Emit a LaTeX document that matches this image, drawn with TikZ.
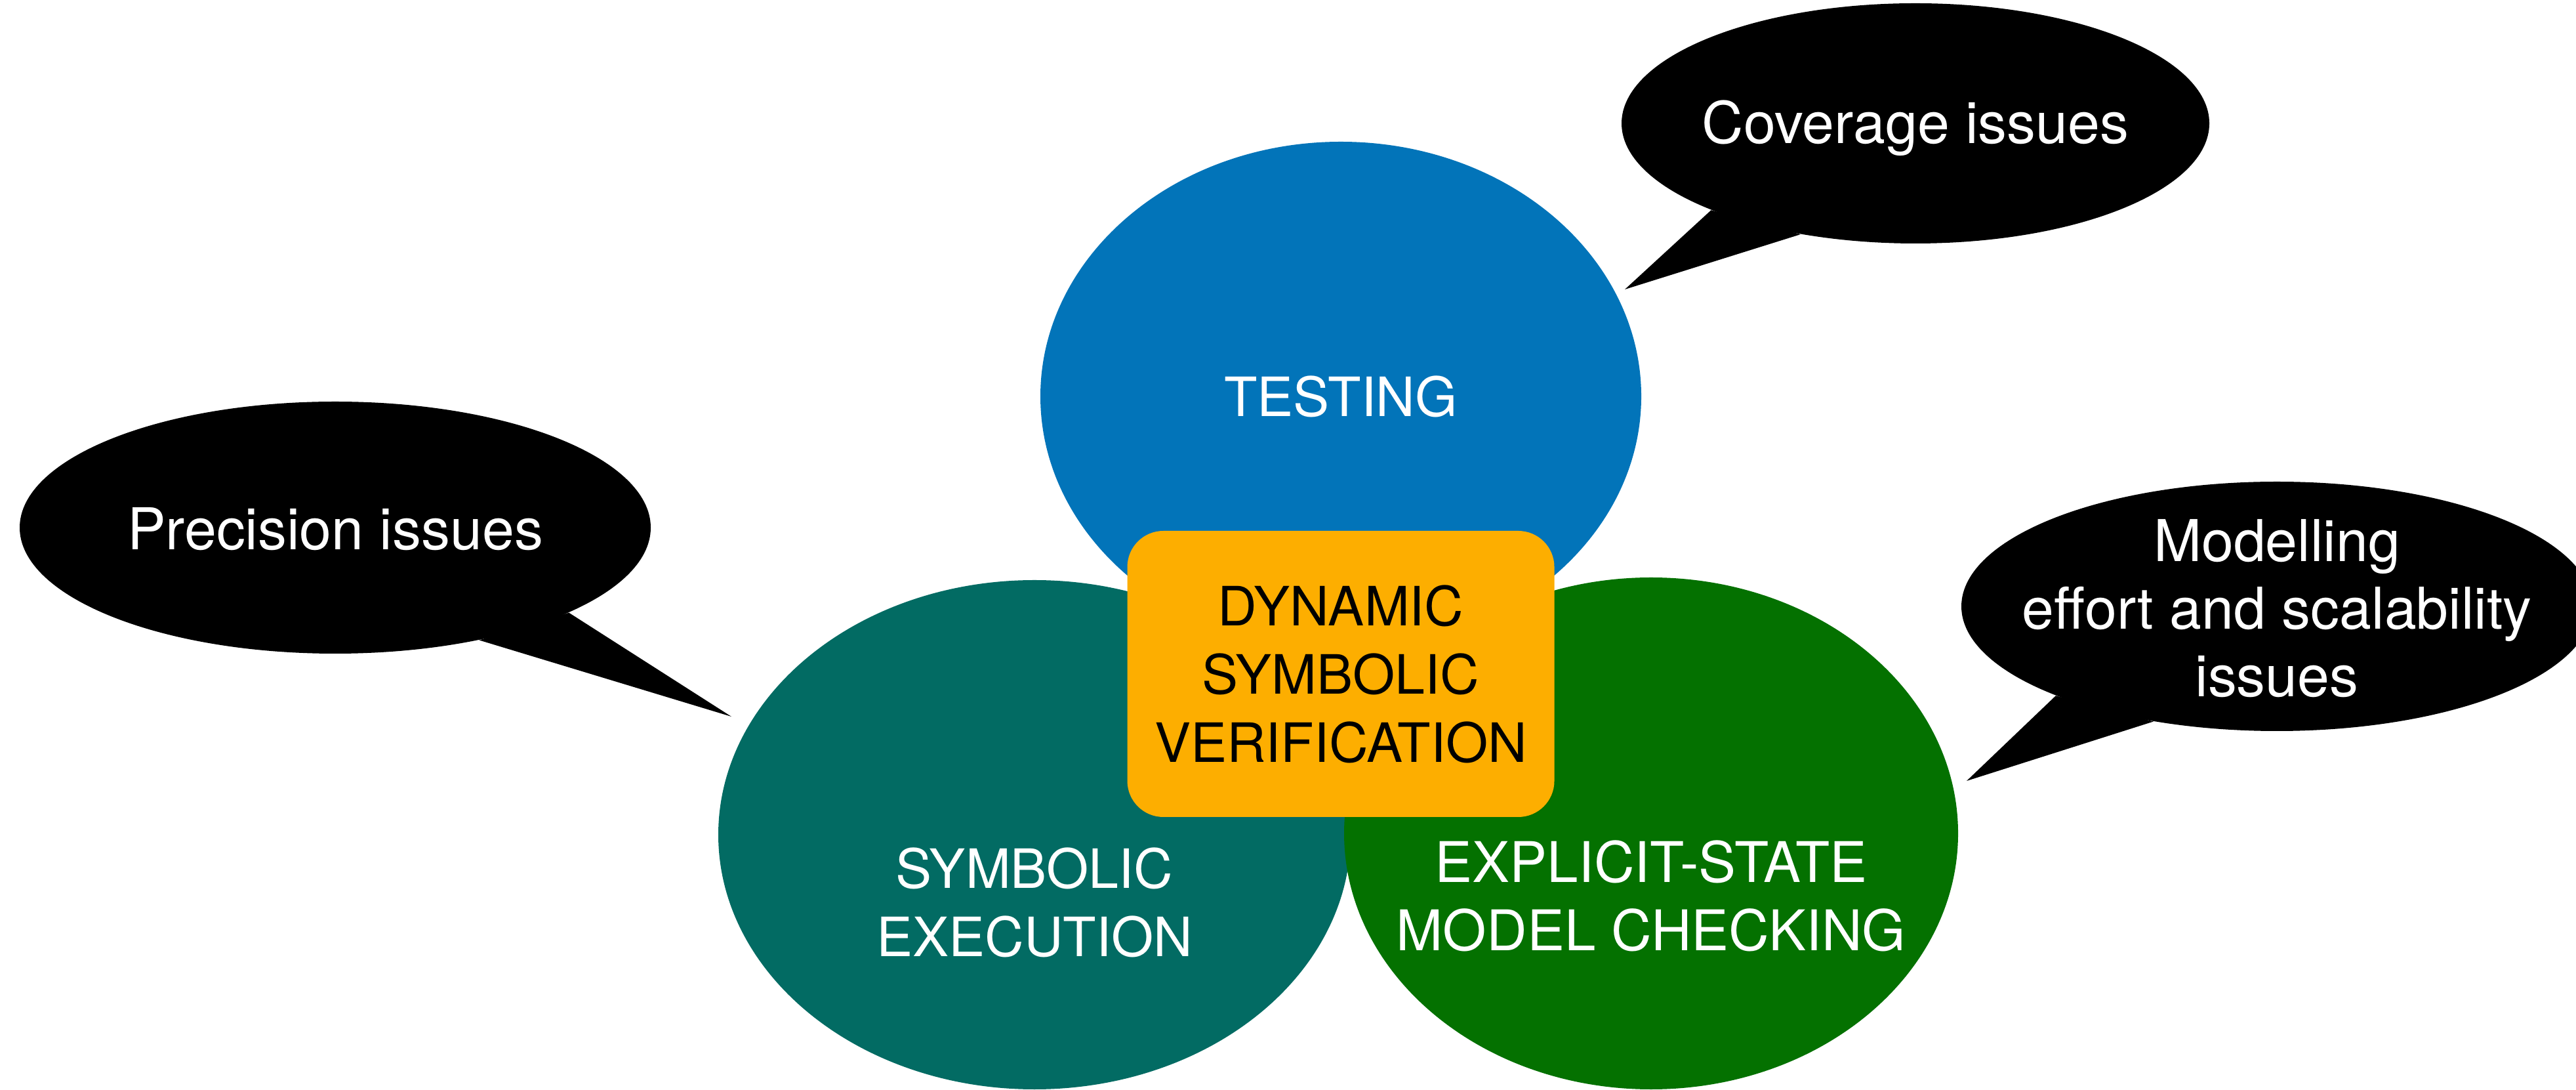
\documentclass[tikz,border=0pt]{standalone}
\usepackage{fontspec}
\setmainfont{TeX Gyre Heros}
\usepackage{xcolor}
\usepackage{tikz}
\usetikzlibrary{shapes.geometric}
\definecolor{testblue}{HTML}{0274B9}
\definecolor{symteal}{HTML}{026B63}
\definecolor{mcgreen}{HTML}{047100}
\definecolor{dsvorange}{HTML}{FDAE00}
\tikzstyle{area}=[ellipse, inner sep=0pt]
\tikzstyle{bubble}=[ellipse, fill=black, inner sep=0pt]
\tikzstyle{areatxt}=[text=white, align=center, font=\fontsize{23.5}{29.6}\selectfont]
\tikzstyle{bubtxt}=[text=white, align=center, font=\fontsize{25}{29.3}\selectfont]

\begin{document}
\begin{tikzpicture}[
  core/.style={rectangle, rounded corners=0.55cm, fill=dsvorange, minimum width=6.51cm,
    minimum height=4.36cm, align=center, font=\fontsize{23.5}{29.6}\selectfont}]
\useasboundingbox (0,0) rectangle (39.27,16.6);

% techniques
\node[area, fill=testblue, minimum width=9.16cm, minimum height=7.76cm] (T) at (20.44,10.56) {};
\node[area, fill=symteal, minimum width=9.64cm, minimum height=7.76cm] (S) at (15.77,3.88) {};
\node[area, fill=mcgreen, minimum width=9.36cm, minimum height=7.80cm] (M) at (25.17,3.90) {};
\node[areatxt] (Tt) at (T) {TESTING};
\node[areatxt] (St) at (15.77,2.85) {SYMBOLIC\\EXECUTION};
\node[areatxt, font=\fontsize{24.3}{29.6}\selectfont] (Mt) at (25.17,2.95) {EXPLICIT-STATE\\MODEL CHECKING};

% combination
\node[core] (D) at (20.44,6.33) {DYNAMIC\\SYMBOLIC\\VERIFICATION};

% speech bubbles
\node[bubble, minimum width=8.96cm, minimum height=3.66cm] (cov) at (29.20,14.72) {};
\node[bubble, minimum width=9.62cm, minimum height=3.84cm] (prec) at (5.11,8.56) {};
\node[bubble, minimum width=9.62cm, minimum height=3.80cm] (mod) at (34.71,7.36) {};
\coordinate (cov-tip) at (24.77,12.19);
\coordinate (prec-tip) at (11.15,5.68);
\coordinate (mod-tip) at (29.98,4.70);
\foreach \b/\p/\q in {cov/203/224, prec/340/322, mod/202/223}
  \fill (\b.\p) -- (\b-tip) -- (\b.\q) -- cycle;
\node[bubtxt] (covt) at (29.20,14.65) {Coverage issues};
\node[bubtxt] (prect) at (5.11,8.54) {Precision issues};
\node[bubtxt] (modt) at (34.71,7.33) {Modelling\\effort and scalability\\issues};
\end{tikzpicture}
\end{document}
